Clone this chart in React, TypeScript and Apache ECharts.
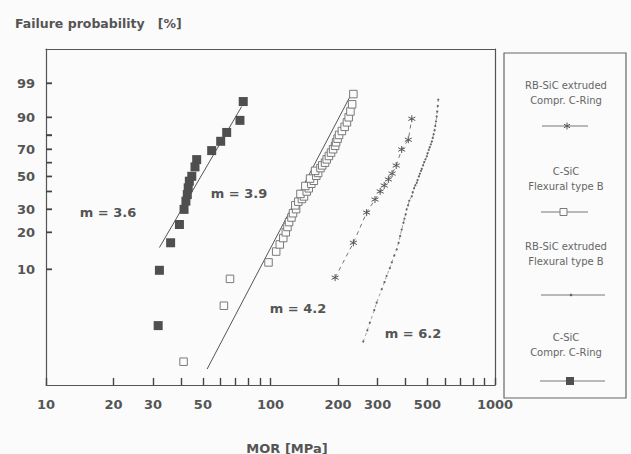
import React, { useEffect, useRef } from "react";
import * as echarts from "echarts";

// ---- axis ticks / labels (real units) ----
const X_LABELS = [10, 20, 30, 50, 100, 200, 300, 500, 1000];
const X_TICKS = [10, 20, 30, 40, 50, 60, 70, 80, 90, 100, 200, 300, 400, 500, 600, 700, 800, 900, 1000];
const Y_LABELS = [10, 20, 30, 50, 70, 90, 99];
const Y_TICKS = [10, 20, 30, 40, 50, 60, 70, 80, 90, 99];
const X_MIN = 10;
const X_MAX = 1000;
const Y_MIN = 1; // %
const Y_MAX = 99.99; // %

// ---- data: [MOR MPa, failure probability %] ----
const cSicComprCRing = [
  [75.6, 95.8], [73.1, 88.5], [63.8, 81.6], [60.0, 75.7], [54.7, 69.0], [46.9, 62.3],
  [46.1, 56.9], [44.6, 50.1], [43.5, 46.7], [43.0, 42.3], [42.6, 38.1], [42.0, 34.3],
  [41.2, 29.9], [39.3, 23.0], [35.9, 16.5], [32.0, 9.8], [31.6, 3.3],
];
const fitM36 = [[32.0, 15.1], [74.4, 94.3]];

const cSicFlexuralB = [
  [41, 1.6], [62, 4.9], [66, 8.3], [98, 11.4], [106, 14.0], [110, 16.0], [114, 18.0],
  [117, 20.0], [119, 22.0], [121, 24.0], [124, 26.0], [126, 28.0], [130, 30.0], [129, 32.0],
  [133, 34.0], [138, 35.5], [141, 37.0], [136, 38.5], [145, 40.0], [148, 42.0], [143, 43.5],
  [152, 45.0], [156, 47.0], [150, 48.5], [160, 50.5], [163, 52.5], [158, 54.0], [167, 56.0],
  [170, 58.0], [175, 60.0], [178, 62.5], [182, 65.0], [186, 67.5], [190, 70.0], [194, 72.5],
  [196, 75.0], [199, 77.5], [202, 80.0], [208, 82.5], [214, 85.0], [219, 87.5], [223, 90.0],
  [227, 92.5], [231, 95.0], [234, 97.5],
];
const fitM39 = [[52.2, 1.38], [226, 97.0]];

const rbSicComprCRing = [
  [194, 8.5], [234, 16.5], [268, 28.3], [292, 35.2], [308, 40.0], [321, 43.8],
  [335, 47.9], [348, 52.0], [363, 57.9], [384, 69.8], [411, 76.8], [426, 89.3],
];

const rbSicFlexuralB = [
  [259, 2.4], [270, 3.0], [277, 3.5], [290, 4.5], [297, 5.2], [313, 6.8], [322, 7.8],
  [329, 8.8], [340, 10.2], [347, 11.4], [356, 13.0], [365, 14.6], [372, 16.5], [378, 18.7],
  [384, 21.0], [391, 23.7], [395, 25.5], [400, 27.5], [404, 29.9], [410, 32.0], [415, 34.5],
  [426, 37.1], [430, 39.5], [436, 42.0], [442, 44.0], [448, 45.6], [452, 47.5], [458, 50.0],
  [463, 52.0], [468, 54.0], [472, 55.5], [478, 58.0], [484, 60.5], [490, 62.5], [497, 64.8],
  [501, 67.0], [507, 69.5], [512, 71.5], [518, 73.5], [523, 75.5], [528, 78.0], [533, 80.5],
  [538, 83.0], [542, 85.5], [546, 88.0], [550, 90.4], [553, 92.5], [556, 94.5], [559, 96.3],
];

const SLOPE_LABELS = ["m = 3.6", "m = 3.9", "m = 4.2", "m = 6.2"];
const LEGEND_NAMES = [
  ["RB-SiC extruded", "Compr. C-Ring"],
  ["C-SiC", "Flexural type B"],
  ["RB-SiC extruded", "Flexural type B"],
  ["C-SiC", "Compr. C-Ring"],
];

// ---- transforms: log10 for MOR, Weibull ln(-ln(1-F)) for probability ----
const tx = (v: number) => Math.log10(v);
const ty = (p: number) => Math.log(-Math.log(1 - p / 100));
const pt = (d: number[][]) => d.map(([x, p]) => [tx(x), ty(p)]);

const FONT = "DejaVu Sans";
const INK = "#555";

const STAR = "path://M5,0L5,10M0.67,2.5L9.33,7.5M0.67,7.5L9.33,2.5";

const frameAxis = (position: string, min: number, max: number) => ({
  type: "value",
  position,
  min,
  max,
  axisLine: { show: true, onZero: false, lineStyle: { color: INK, width: 1.2 } },
  axisTick: { show: false },
  axisLabel: { show: false },
  splitLine: { show: false },
});

export default function App() {
  const ref = useRef<HTMLDivElement>(null);
  useEffect(() => {
    if (!ref.current) return;
    const chart = echarts.init(ref.current, null, { renderer: "svg" });

    const legendText = (text: string, y: number) => ({
      type: "text",
      x: 566,
      y,
      style: { text, fill: "#666", font: `10px "${FONT}"`, textAlign: "center", textVerticalAlign: "middle" },
    });
    const legendLine = (x1: number, x2: number, y: number) => ({
      type: "line",
      shape: { x1, y1: y, x2, y2: y },
      style: { stroke: "#777", lineWidth: 1 },
    });
    const slopeText = (text: string, x: number, y: number) => ({
      type: "text",
      x,
      y,
      style: { text, fill: INK, font: `bold 13px "${FONT}"`, textAlign: "center", textVerticalAlign: "middle" },
    });

    const graphic: any[] = [
      slopeText(SLOPE_LABELS[0], 108, 212),
      slopeText(SLOPE_LABELS[1], 239, 193),
      slopeText(SLOPE_LABELS[2], 298, 308),
      slopeText(SLOPE_LABELS[3], 413, 333),
      {
        type: "text",
        x: 287,
        y: 448,
        style: { text: "MOR [MPa]", fill: INK, font: `bold 13px "${FONT}"`, textAlign: "center", textVerticalAlign: "middle" },
      },
      // legend box
      {
        type: "rect",
        shape: { x: 504, y: 53, width: 122, height: 345 },
        style: { fill: "none", stroke: "#666", lineWidth: 1.2 },
      },
      legendText(LEGEND_NAMES[0][0], 85),
      legendText(LEGEND_NAMES[0][1], 100),
      legendLine(542, 588, 126),
      { type: "line", shape: { x1: 567, y1: 122.5, x2: 567, y2: 129.5 }, style: { stroke: "#555", lineWidth: 1 } },
      { type: "line", shape: { x1: 564, y1: 124.2, x2: 570, y2: 127.8 }, style: { stroke: "#555", lineWidth: 1 } },
      { type: "line", shape: { x1: 564, y1: 127.8, x2: 570, y2: 124.2 }, style: { stroke: "#555", lineWidth: 1 } },
      legendText(LEGEND_NAMES[1][0], 171),
      legendText(LEGEND_NAMES[1][1], 186),
      legendLine(541, 588, 212),
      { type: "rect", shape: { x: 560, y: 208.5, width: 7, height: 7 }, style: { fill: "#fbfbfb", stroke: "#7a7a7a", lineWidth: 1 } },
      legendText(LEGEND_NAMES[2][0], 246),
      legendText(LEGEND_NAMES[2][1], 261),
      legendLine(541, 605, 295),
      { type: "circle", shape: { cx: 571, cy: 295, r: 1.3 }, style: { fill: "#666" } },
      legendText(LEGEND_NAMES[3][0], 337),
      legendText(LEGEND_NAMES[3][1], 352),
      legendLine(540, 605, 381),
      { type: "rect", shape: { x: 566, y: 377, width: 8, height: 8 }, style: { fill: "#4f4f4f" } },
    ];

    chart.setOption({
      animation: false,
      backgroundColor: "#fbfbfb",
      title: {
        text: "Failure probability   [%]",
        left: 10,
        top: 12,
        textStyle: { fontFamily: FONT, fontSize: 12.5, fontWeight: "bold", color: INK },
      },
      grid: { left: 46, right: 136, top: 49, bottom: 69 },
      xAxis: [
        {
          type: "value",
          position: "bottom",
          min: tx(X_MIN),
          max: tx(X_MAX),
          axisLine: { show: true, onZero: false, lineStyle: { color: INK, width: 1.2 } },
          axisTick: { show: true, inside: true, length: 7, customValues: X_TICKS.map(tx), lineStyle: { color: "#444", width: 1.4 } },
          axisLabel: {
            customValues: X_LABELS.map(tx),
            formatter: (v: number) => String(Math.round(Math.pow(10, v))),
            showMinLabel: true, showMaxLabel: true,
            margin: 13, color: INK, fontFamily: FONT, fontSize: 13, fontWeight: "bold",
          },
          splitLine: { show: false },
        },
        frameAxis("top", tx(X_MIN), tx(X_MAX)),
      ],
      yAxis: [
        {
          type: "value",
          position: "left",
          min: ty(Y_MIN),
          max: ty(Y_MAX),
          axisLine: { show: true, onZero: false, lineStyle: { color: INK, width: 1.2 } },
          axisTick: { show: true, inside: true, length: 6, customValues: Y_TICKS.map(ty), lineStyle: { color: "#444", width: 1.4 } },
          axisLabel: {
            customValues: Y_LABELS.map(ty),
            formatter: (v: number) => String(Math.round(100 * (1 - Math.exp(-Math.exp(v))))),
            showMinLabel: true, showMaxLabel: true,
            margin: 11, color: INK, fontFamily: FONT, fontSize: 13, fontWeight: "bold",
          },
          splitLine: { show: false },
        },
        frameAxis("right", ty(Y_MIN), ty(Y_MAX)),
      ],
      series: [
        {
          name: "C-SiC Compr. C-Ring fit",
          type: "line",
          data: pt(fitM36),
          symbol: "none",
          lineStyle: { color: INK, width: 1 },
          z: 2,
        },
        {
          name: "C-SiC Compr. C-Ring",
          type: "scatter",
          data: pt(cSicComprCRing),
          symbol: "rect",
          symbolSize: 9,
          itemStyle: { color: "#4f4f4f", opacity: 1 },
          z: 4,
        },
        {
          name: "C-SiC Flexural type B fit",
          type: "line",
          data: pt(fitM39),
          symbol: "none",
          lineStyle: { color: INK, width: 1 },
          z: 2,
        },
        {
          name: "C-SiC Flexural type B",
          type: "scatter",
          data: pt(cSicFlexuralB),
          symbol: "rect",
          symbolSize: 7.5,
          itemStyle: { color: "#fbfbfb", borderColor: "#7a7a7a", borderWidth: 1, opacity: 1 },
          z: 3,
        },
        {
          name: "RB-SiC extruded Compr. C-Ring",
          type: "line",
          data: pt(rbSicComprCRing),
          symbol: STAR,
          symbolSize: 7,
          showAllSymbol: true,
          itemStyle: { color: "none", borderColor: "#555", borderWidth: 1 },
          lineStyle: { color: "#777", width: 1, type: [4, 4] },
          z: 3,
        },
        {
          name: "RB-SiC extruded Flexural type B",
          type: "line",
          data: pt(rbSicFlexuralB),
          symbol: "circle",
          symbolSize: 2.2,
          showAllSymbol: true,
          itemStyle: { color: "#666" },
          lineStyle: { color: "#888", width: 0.8, type: [3, 3] },
          z: 3,
        },
      ],
      graphic,
    });

    // y-axis ticks placed through the axis scale (convertToPixel)
    const x0 = chart.convertToPixel({ xAxisIndex: 0 }, tx(X_MIN)) as number;
    const yTickLines = Y_TICKS.map((p) => {
      const y = chart.convertToPixel({ yAxisIndex: 0 }, ty(p)) as number;
      return {
        type: "line",
        shape: { x1: x0, y1: y, x2: x0 + 6, y2: y },
        style: { stroke: "#444", lineWidth: 1.4 },
        z: 10,
      };
    });
    chart.setOption({ graphic: [...graphic, ...yTickLines] });

    return () => chart.dispose();
  }, []);
  return (
    <div
      ref={ref}
      style={{ position: "fixed", left: 0, top: 0, width: 631, height: 454 }}
    />
  );
}
